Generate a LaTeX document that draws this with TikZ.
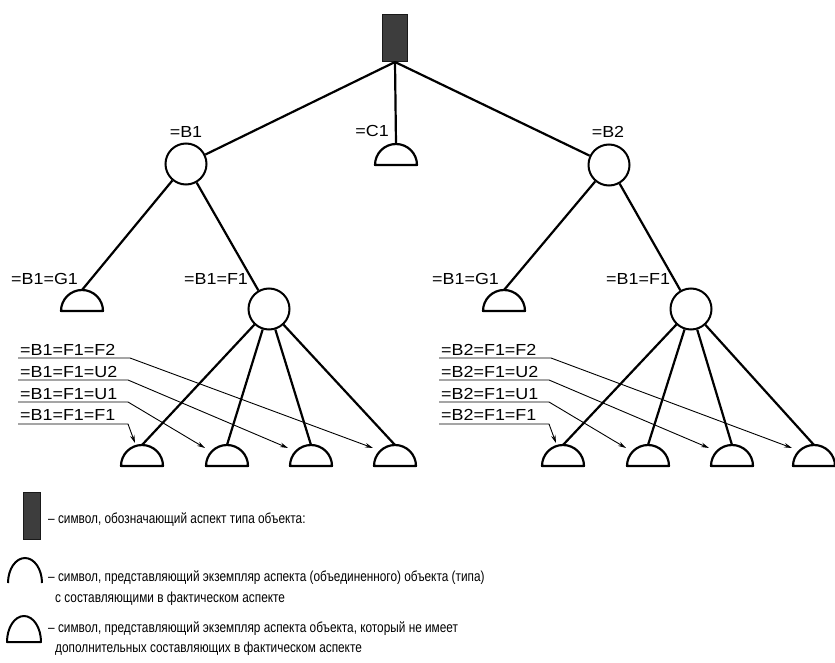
\documentclass[tikz,border=0pt]{standalone}
\usepackage{fontspec}
\setmainfont{Liberation Sans}
\newfontfamily\lblfont{Liberation Sans}[FakeStretch=1.12]
\newfontfamily\legfont{Liberation Sans}[FakeStretch=0.815]
\usetikzlibrary{arrows.meta,calc}

\begin{document}
\begin{tikzpicture}[x=1pt,y=1pt,
  link/.style={line width=2.2pt},
  aspect/.style={circle,draw,line width=2pt,minimum size=41pt,inner sep=0pt},
  typebox/.style={draw=black!90,fill=black!76,line width=1pt,minimum width=25pt,minimum height=47pt,inner sep=0pt},
  lbl/.style={font=\fontsize{16}{17}\lblfont,inner sep=0pt},
  leg/.style={font=\fontsize{14.5}{16}\legfont,inner sep=0pt,anchor=base west},
  ptr/.style={line width=0.9pt,-{Stealth[length=8pt,width=4.5pt]}},
  pics/dome/.style={code={
    \draw[line width=2.2pt,line join=round] (-21,0) arc[start angle=180,end angle=0,radius=21] -- cycle;
    \coordinate (-base) at (0,0);
    \coordinate (-apex) at (0,21);}},
]
\useasboundingbox (0,0) rectangle (835,-663);

% ---------- root and first level ----------
\node[typebox] (root) at (395,-38) {};
\node[aspect] (b1) at (186,-164) {};
\node[aspect] (b2) at (609,-165) {};
\pic (c1) at (396,-165) {dome};

\node[lbl,anchor=base] (tb1) at (186,-138) {=B1};
\node[lbl,anchor=base] (tb2) at (608,-138) {=B2};
\node[lbl,anchor=base east] (tc1) at (389,-137) {=C1};

\draw[link] (root.south) -- (b1);
\draw[link] (root.south) -- (b2);
\draw[link] (root.south) -- (c1-apex);

% ---------- left branch ----------
\pic (lg1) at (82,-311) {dome};
\node[aspect] (lf1) at (269,-309) {};
\node[lbl,anchor=base west] (tlg1) at (11,-284) {=B1=G1};
\node[lbl,anchor=base west] (tlf1) at (184,-284) {=B1=F1};
\draw[link] (b1) -- (lg1-apex);
\draw[link] (b1) -- (lf1);

\foreach \i/\x in {1/142,2/227,3/311,4/395}{
  \pic (ld\i) at (\x,-466) {dome};
  \draw[link] (lf1) -- (ld\i-apex);
}

\node[lbl,anchor=base west] (ltA) at (20,-355) {=B1=F1=F2};
\node[lbl,anchor=base west] (ltB) at (20,-377) {=B1=F1=U2};
\node[lbl,anchor=base west] (ltC) at (20,-399) {=B1=F1=U1};
\node[lbl,anchor=base west] (ltD) at (20,-420) {=B1=F1=F1};

\coordinate (laS) at (18,-358);  \coordinate (laE) at (130,-358);
\coordinate (lbS) at (18,-380);  \coordinate (lbE) at (128,-380);
\coordinate (lcS) at (18,-402);  \coordinate (lcE) at (128,-402);
\coordinate (ldS) at (18,-424);  \coordinate (ldE) at (128,-424);
\draw[ptr] (laS) -- (laE) -- ($(ld4-base)+(-22,18)$);
\draw[ptr] (lbS) -- (lbE) -- ($(ld3-base)+(-23,18)$);
\draw[ptr] (lcS) -- (lcE) -- ($(ld2-base)+(-22,18)$);
\draw[ptr] (ldS) -- (ldE) -- ($(ld1-base)+(-7,23)$);

% ---------- right branch ----------
\pic (rg1) at (504,-311) {dome};
\node[aspect] (rf1) at (691,-309) {};
\node[lbl,anchor=base west] (trg1) at (432,-284) {=B1=G1};
\node[lbl,anchor=base west] (trf1) at (606,-284) {=B1=F1};
\draw[link] (b2) -- (rg1-apex);
\draw[link] (b2) -- (rf1);

\foreach \i/\x in {1/563,2/648,3/732,4/814}{
  \pic (rd\i) at (\x,-466) {dome};
  \draw[link] (rf1) -- (rd\i-apex);
}

\node[lbl,anchor=base west] (rtA) at (441,-355) {=B2=F1=F2};
\node[lbl,anchor=base west] (rtB) at (441,-377) {=B2=F1=U2};
\node[lbl,anchor=base west] (rtC) at (441,-399) {=B2=F1=U1};
\node[lbl,anchor=base west] (rtD) at (441,-420) {=B2=F1=F1};

\coordinate (raS) at (439,-358);  \coordinate (raE) at (551,-358);
\coordinate (rbS) at (439,-380);  \coordinate (rbE) at (549,-380);
\coordinate (rcS) at (439,-402);  \coordinate (rcE) at (549,-402);
\coordinate (rdS) at (439,-424);  \coordinate (rdE) at (549,-424);
\draw[ptr] (raS) -- (raE) -- ($(rd4-base)+(-22,18)$);
\draw[ptr] (rbS) -- (rbE) -- ($(rd3-base)+(-23,18)$);
\draw[ptr] (rcS) -- (rcE) -- ($(rd2-base)+(-22,18)$);
\draw[ptr] (rdS) -- (rdE) -- ($(rd1-base)+(-7,23)$);

% ---------- legend ----------
\node[typebox,minimum width=17pt] (kbox) at (32,-516) {};
\node[leg] (k1) at (48,-523) {– символ, обозначающий аспект типа объекта:};

\draw[line width=2pt] (8,-583) arc[start angle=180,end angle=0,x radius=17,y radius=25];
\node[leg] (k2) at (48,-581) {– символ, представляющий экземпляр аспекта (объединенного) объекта (типа)};
\node[leg] (k2b) at (55,-602) {с составляющими в фактическом аспекте};

\draw[line width=2pt,line join=round] (7,-642) arc[start angle=180,end angle=0,x radius=17,y radius=26] -- cycle;
\node[leg] (k3) at (48,-632) {– символ, представляющий экземпляр аспекта объекта, который не имеет};
\node[leg] (k3b) at (55,-652) {дополнительных составляющих в фактическом аспекте};
\end{tikzpicture}
\end{document}
